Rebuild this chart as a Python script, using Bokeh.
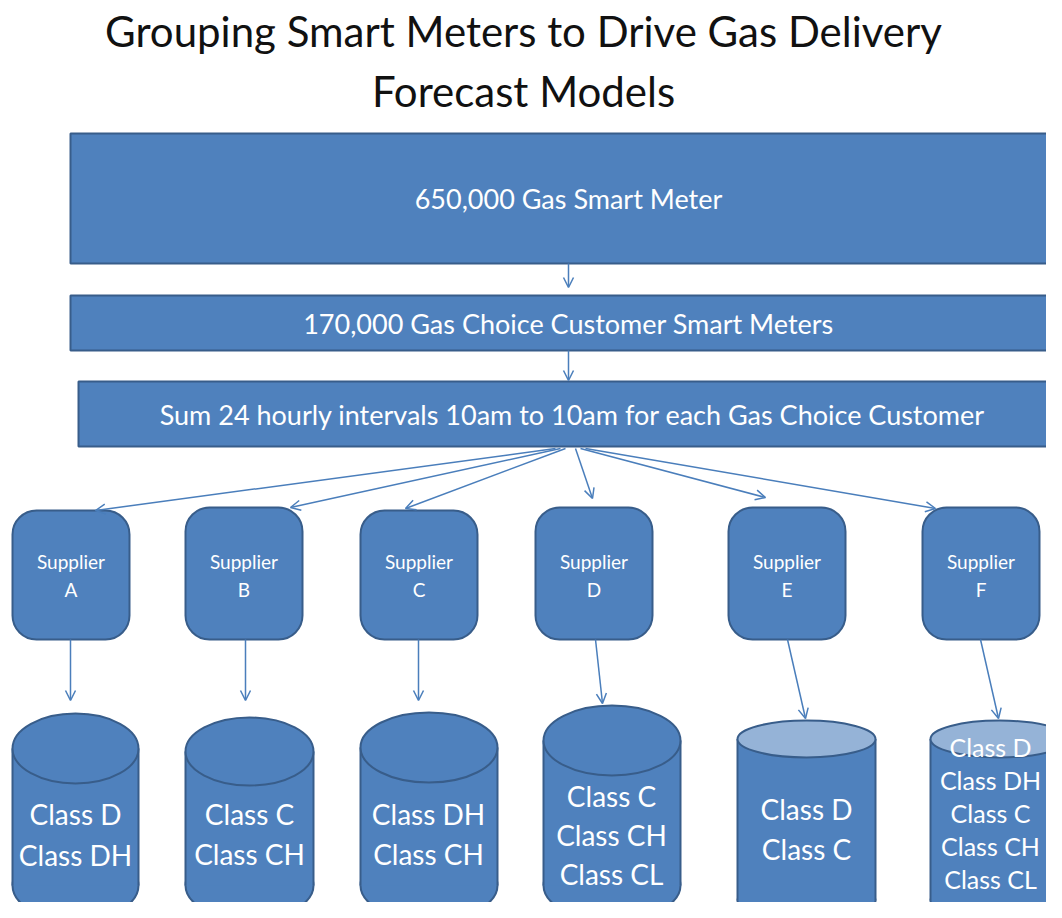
from bokeh.plotting import figure
from bokeh.models import Range1d, Arrow, OpenHead
from bokeh.core.properties import value
from bokeh.embed import file_html
from bokeh.resources import INLINE

# ---- content ----
title_lines = ["Grouping Smart Meters to Drive Gas Delivery", "Forecast Models"]
stage_labels = ["650,000 Gas Smart Meter",
                "170,000 Gas Choice Customer Smart Meters",
                "Sum 24 hourly intervals 10am to 10am for each Gas Choice Customer"]
suppliers = ["A", "B", "C", "D", "E", "F"]
supplier_classes = [["Class D", "Class DH"],
                    ["Class C", "Class CH"],
                    ["Class DH", "Class CH"],
                    ["Class C", "Class CH", "Class CL"],
                    ["Class D", "Class C"],
                    ["Class D", "Class DH", "Class C", "Class CH", "Class CL"]]

# ---- layout (image pixel coordinates, y downward) ----
W, H = 1046, 902
stage_left = [70, 70, 78]
stage_top = [133, 295, 381]
stage_bottom = [263, 350, 446]
stage_text_x = [568, 568, 572]
sup_left = [12, 185, 360, 535, 728, 922]
sup_top = [510, 507, 510, 507, 507, 507]
sup_w, sup_bottom = 117, 639
cyl_left = [12, 185, 360, 543, 737, 930]
cyl_right = [138, 313, 497, 680, 875, 1068]
cyl_top = [713, 717, 712, 705, 720, 720]
cyl_eh = [70, 68, 70, 70, 37, 37]
cyl_bot = [885, 885, 885, 885, 900, 900]
cyl_light = [False, False, False, False, True, True]
cyl_text_x = [75, 249, 428, 611, 806, 990]
cyl_text_y0 = [813, 813, 813, 795, 808, 746]
cyl_text_dy = [41, 40, 40, 39, 40, 33]
cyl_text_size = ["28px", "28px", "28px", "28px", "28px", "25px"]
fan_start = [555, 560, 565, 575, 580, 585]
fan_end = [(95, 510), (290, 507), (405, 508), (592, 498), (765, 497), (935, 508)]
drop_start = [70, 245, 418, 595, 787, 980]
drop_end = [(70, 700), (245, 700), (418, 700), (602, 703), (805, 718), (998, 718)]

FILL = "#4F81BD"
EDGE = "#385D8A"
LIGHT = "#95B3D7"
ARROW = "#4A7EBB"
FONT = value("Lato")


def Y(v):
    return H - v


p = figure(width=W, height=H, output_backend="svg", toolbar_location=None,
           x_range=Range1d(0, W), y_range=Range1d(0, H),
           min_border=0)
p.axis.visible = False
p.grid.visible = False
p.outline_line_color = None
p.background_fill_color = "white"

# title
p.text(x=[523, 523], y=[Y(30), Y(90)], text=title_lines, text_font=FONT,
       text_font_size="42px", text_align="center", text_baseline="middle",
       text_color="#111111")

# stage boxes
p.quad(left=stage_left, right=[1075] * 3, top=[Y(t) for t in stage_top],
       bottom=[Y(b) for b in stage_bottom], fill_color=FILL, line_color=EDGE, line_width=2)
p.text(x=stage_text_x, y=[Y((t + b) / 2) for t, b in zip(stage_top, stage_bottom)],
       text=stage_labels, text_font=FONT, text_font_size="27px", text_align="center",
       text_baseline="middle", text_color="white")


def arrow(x0, y0, x1, y1):
    p.add_layout(Arrow(end=OpenHead(size=10, line_color=ARROW, line_width=1.5),
                       x_start=x0, y_start=Y(y0), x_end=x1, y_end=Y(y1),
                       line_color=ARROW, line_width=1.5))


arrow(568, 263, 568, 287)
arrow(568, 350, 568, 380)
for xs, (xe, ye) in zip(fan_start, fan_end):
    arrow(xs, 448, xe, ye)

# supplier boxes
p.quad(left=sup_left, right=[l + sup_w for l in sup_left], top=[Y(t) for t in sup_top],
       bottom=[Y(sup_bottom)] * 6, fill_color=FILL, line_color=EDGE, line_width=2,
       border_radius=24)
cx_sup = [l + sup_w / 2 for l in sup_left]
p.text(x=cx_sup, y=[Y(561)] * 6, text=["Supplier"] * 6, text_font=FONT,
       text_font_size="19px", text_align="center", text_baseline="middle", text_color="white")
p.text(x=cx_sup, y=[Y(589)] * 6, text=suppliers, text_font=FONT,
       text_font_size="19px", text_align="center", text_baseline="middle", text_color="white")

for xs, (xe, ye) in zip(drop_start, drop_end):
    arrow(xs, sup_bottom, xe, ye)

# cylinders
for i in range(6):
    l, r = cyl_left[i], cyl_right[i]
    cx, w = (l + r) / 2, r - l
    eh = cyl_eh[i]
    ty = cyl_top[i] + eh / 2
    by = cyl_bot[i]
    p.ellipse(x=[cx], y=[Y(by)], width=[w], height=[eh], fill_color=FILL,
              line_color=EDGE, line_width=2)
    p.quad(left=[l], right=[r], top=[Y(ty)], bottom=[Y(by)], fill_color=FILL, line_color=None)
    p.segment(x0=[l, r], y0=[Y(ty)] * 2, x1=[l, r], y1=[Y(by)] * 2, line_color=EDGE, line_width=2)
    p.ellipse(x=[cx], y=[Y(ty)], width=[w], height=[eh],
              fill_color=LIGHT if cyl_light[i] else FILL, line_color=EDGE, line_width=2)
    labels = supplier_classes[i]
    ys = [Y(cyl_text_y0[i] + k * cyl_text_dy[i]) for k in range(len(labels))]
    p.text(x=[cyl_text_x[i]] * len(labels), y=ys, text=labels, text_font=FONT,
           text_font_size=cyl_text_size[i], text_align="center", text_baseline="middle",
           text_color="white")

open("out.html", "w").write(file_html(p, INLINE))
